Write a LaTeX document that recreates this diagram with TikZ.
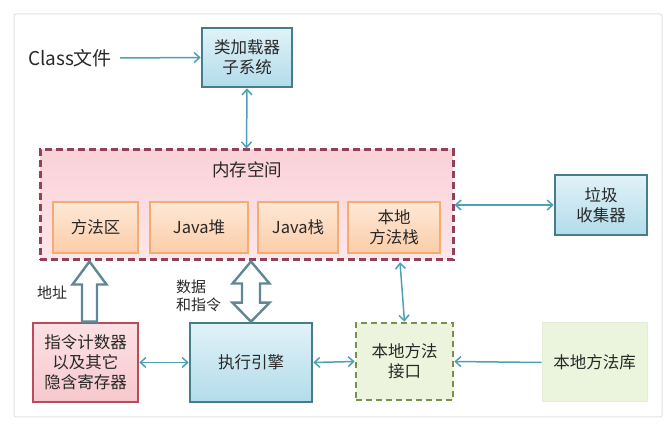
\documentclass[tikz,border=0pt]{standalone}
\usepackage{fontspec}
\setmainfont{Noto Sans CJK SC}
\usetikzlibrary{arrows.meta,calc,positioning}
\definecolor{arrowc}{RGB}{80,160,180}
\definecolor{hollowc}{RGB}{95,135,148}
\definecolor{tealb}{RGB}{70,125,140}
\definecolor{bluetop}{RGB}{225,242,248}
\definecolor{bluebot}{RGB}{178,220,234}
\definecolor{memb}{RGB}{145,65,90}
\definecolor{memtop}{RGB}{250,210,216}
\definecolor{membot}{RGB}{253,230,233}
\definecolor{orgb}{RGB}{246,172,112}
\definecolor{orgtop}{RGB}{254,232,214}
\definecolor{orgbot}{RGB}{251,205,168}
\definecolor{redb}{RGB}{185,75,90}
\definecolor{redtop}{RGB}{252,225,228}
\definecolor{redbot}{RGB}{246,200,205}
\definecolor{greenb}{RGB}{120,145,75}
\definecolor{greenf}{RGB}{236,244,222}
\definecolor{libf}{RGB}{235,244,220}
\definecolor{libb}{RGB}{228,238,214}
\definecolor{framec}{RGB}{225,225,225}
\definecolor{txt}{RGB}{40,40,40}
\tikzset{
  boxtext/.style={font=\fontsize{16.5}{20}\selectfont, text=txt, align=center, inner sep=0pt},
  bluebox/.style={boxtext, draw=tealb, line width=2.6pt, top color=bluetop, bottom color=bluebot},
  membox/.style={draw=memb, line width=3pt, dash pattern=on 7pt off 4pt, top color=memtop, bottom color=membot},
  orgbox/.style={boxtext, draw=orgb, line width=2.5pt, top color=orgtop, bottom color=orgbot},
  redbox/.style={boxtext, draw=redb, line width=2.6pt, top color=redtop, bottom color=redbot},
  jnibox/.style={boxtext, draw=greenb, line width=2.6pt, dash pattern=on 6pt off 4pt, fill=greenf},
  libbox/.style={boxtext, draw=libb, line width=1pt, fill=libf},
  conn/.style={draw=arrowc, line width=1.5pt, arrows={-Straight Barb[length=5.5pt,width=10pt]}},
  conn2/.style={draw=arrowc, line width=1.5pt, arrows={Straight Barb[length=5.5pt,width=10pt]-Straight Barb[length=5.5pt,width=10pt]}},
  hollow/.style={draw=hollowc, line width=2.4pt, fill=white, line join=miter},
  lbl/.style={font=\fontsize{15}{18}\selectfont, text=txt, inner sep=0pt}
}
\begin{document}
\begin{tikzpicture}[x=1pt,y=-1pt]
\useasboundingbox (0,0) rectangle (667,427);
\draw[framec, line width=1pt, rounded corners=2pt] (14,14) rectangle (662,417);

\node[font=\fontsize{19}{22}\selectfont, text=txt, inner sep=0pt, minimum width=100pt] (cls) at (70,58) {Class文件};
\node[bluebox, minimum width=90pt, minimum height=59pt] (loader) at (247,57.5) {类加载器\\子系统};

\node[membox, minimum width=413pt, minimum height=110pt] (mem) at (246.5,205) {};
\node[font=\fontsize{17.5}{20}\selectfont, text=txt, inner sep=0pt] (memt) at (247,170) {内存空间};
\node[orgbox, minimum width=85pt, minimum height=51pt] (fa) at (95.5,227.5) {方法区};
\node[orgbox, minimum width=98pt, minimum height=51pt] (heap) at (199,227.5) {Java堆};
\node[orgbox, minimum width=80pt, minimum height=51pt] (jstack) at (298,227.5) {Java栈};
\node[orgbox, minimum width=92pt, minimum height=51pt] (nms) at (394,227.5) {本地\\方法栈};

\node[bluebox, minimum width=92pt, minimum height=60pt] (gc) at (601,205) {垃圾\\收集器};

\node[redbox, minimum width=105pt, minimum height=79pt] (ptr) at (85.5,362.5) {指令计数器\\以及其它\\隐含寄存器};
\node[bluebox, minimum width=122pt, minimum height=79pt] (exec) at (251,362.5) {执行引擎};
\node[jnibox, minimum width=97pt, minimum height=77pt] (jni) at (404.5,361.5) {本地方法\\接口};
\node[libbox, minimum width=105pt, minimum height=79pt] (lib) at (594.5,362.5) {本地方法库};

\node[lbl] (addr) at (52,293) {地址};
\node[lbl, anchor=west, align=left] (data) at (176,296) {数据\\和指令};

% thin connectors
\draw[conn] (cls.east) -- (loader.west);
\draw[conn2] (loader.south) -- (mem.north);
\draw[conn2] (mem.east |- gc.west) -- (gc.west);
\draw[conn2] (ptr.east) -- (exec.west);
\draw[conn2] (exec.east) -- (jni.west);
\draw[conn] (lib.west) -- (jni.east);
\draw[conn2] ($(nms.south)+(6,8)$) -- (jni.north);

% hollow arrow: address
\draw[hollow] let \p1=($(ptr.north)+(4,0)$), \p2=(mem.south) in
  (\x1-7.5pt,\y1) -- (\x1-7.5pt,\y2-23pt) -- (\x1-17pt,\y2-23pt) -- (\x1,\y2)
  -- (\x1+17pt,\y2-23pt) -- (\x1+7.5pt,\y2-23pt) -- (\x1+7.5pt,\y1) -- cycle;
% hollow double arrow: data and instructions
\draw[hollow] let \p1=(exec.north), \p2=(mem.south) in
  (\x1,\y1) -- (\x1-18.5pt,\y1+19pt) -- (\x1-9pt,\y1+19pt) -- (\x1-9pt,\y2-22pt)
  -- (\x1-18.5pt,\y2-22pt) -- (\x1,\y2) -- (\x1+18.5pt,\y2-22pt) -- (\x1+9pt,\y2-22pt)
  -- (\x1+9pt,\y1+19pt) -- (\x1+18.5pt,\y1+19pt) -- cycle;
\end{tikzpicture}
\end{document}
